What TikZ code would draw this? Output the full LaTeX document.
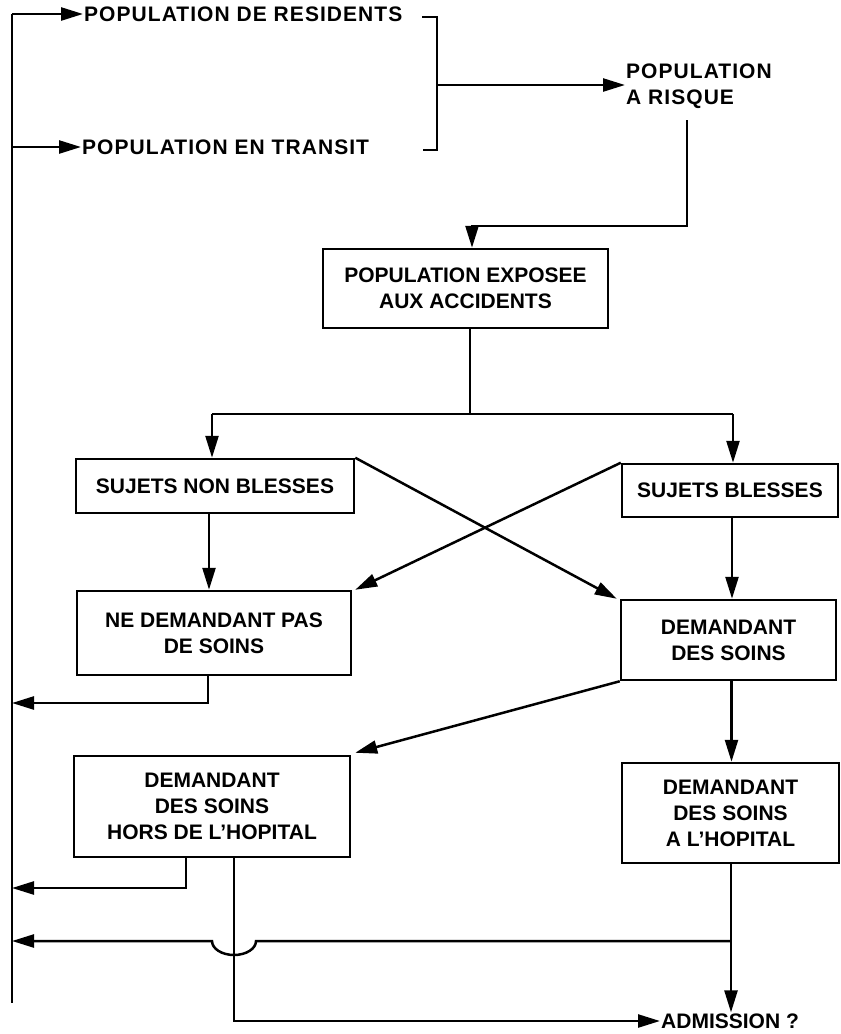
\documentclass[tikz,border=0pt]{standalone}
\usepackage{fontspec}
\setmainfont{Liberation Sans}
\usetikzlibrary{arrows.meta}
\tikzset{
  ln/.style={line width=2.5pt},
  arr/.style={ln,-{Triangle[length=22pt,width=13pt]}},
  txt/.style={font=\fontsize{21}{26}\selectfont\bfseries, align=center, inner sep=1pt},
  toptxt/.style={font=\fontsize{21}{26}\selectfont\bfseries\addfontfeatures{LetterSpace=5}, align=left, inner sep=1pt},
  boxnode/.style={draw, line width=2.5pt, txt, inner sep=0pt},
}
\begin{document}
\begin{tikzpicture}[x=1pt,y=-1pt]
\useasboundingbox (0,0) rectangle (841,1034);
% text nodes
\node[toptxt,anchor=west] (res) at (83,14) {POPULATION DE RESIDENTS};
\node[toptxt,anchor=west] (tra) at (81,147) {POPULATION EN TRANSIT};
\node[toptxt,anchor=west] (risk) at (625,86) {POPULATION\\A RISQUE};
\node[txt,anchor=west] (adm) at (660,1021) {ADMISSION ?};
% boxes
\node[boxnode,minimum width=285pt,minimum height=79pt] (expo) at (465.5,288.5) {POPULATION EXPOSEE\\AUX ACCIDENTS};
\node[boxnode,minimum width=278pt,minimum height=54pt] (snb) at (215,486) {SUJETS NON BLESSES};
\node[boxnode,minimum width=216pt,minimum height=53pt] (sb) at (730,490.5) {SUJETS BLESSES};
\node[boxnode,minimum width=274pt,minimum height=84pt] (ndp) at (214,633) {NE DEMANDANT PAS\\DE SOINS};
\node[boxnode,minimum width=215pt,minimum height=80pt] (dds) at (728.5,640) {DEMANDANT\\DES SOINS};
\node[boxnode,minimum width=276pt,minimum height=101pt] (hdh) at (212,806.5) {DEMANDANT\\DES SOINS\\HORS DE L'HOPITAL};
\node[boxnode,minimum width=217pt,minimum height=100pt] (dsh) at (730.5,813) {DEMANDANT\\DES SOINS\\A L'HOPITAL};
% helper coordinates
\coordinate (Ltop) at (12,14);
\coordinate (Lbot) at (12,1003);
\coordinate (Lx) at (12,0);
\coordinate (b1) at (422,17);
\coordinate (b2) at (437,17);
\coordinate (b3) at (437,150);
\coordinate (b4) at (423,150);
\coordinate (bm) at (437,85);
\coordinate (r1) at (687,120);
\coordinate (r2) at (687,226);
\coordinate (sp) at (470,414);
\coordinate (spl) at (212,414);
\coordinate (spr) at (733,414);
\coordinate (n1) at (208,703);
\coordinate (h1) at (186,888);
\coordinate (h2) at (234,1021);
\coordinate (ret) at (731,941);
% left trunk
\draw[ln] (Ltop) -- (Lbot);
\draw[arr] (Ltop) -- (res.west);
\draw[arr] (tra.west -| Lx) -- (tra.west);
% bracket
\draw[ln] (b1) -- (b2) -- (b3) -- (b4);
\draw[arr] (bm) -- (bm -| risk.west);
% risk to exposee
\draw[arr] (r1) -- (r2) -| ([xshift=6.5pt]expo.north);
% split
\draw[ln] (expo.south -| sp) -- (sp);
\draw[ln] (spl) -- (spr);
\draw[arr] (spl) -- (spl |- snb.north);
\draw[arr] (spr) -- (spr |- sb.north);
% verticals
\draw[arr] ([xshift=-6pt]snb.south) -- ([xshift=-6pt]snb.south |- ndp.north);
\draw[arr] ([xshift=2pt]sb.south) -- ([xshift=2pt]sb.south |- dds.north);
\draw[arr] ([xshift=3pt]dds.south) -- ([xshift=3pt]dds.south |- dsh.north);
% cross
\draw[arr] (snb.north east) -- ([xshift=-3pt]dds.north west);
\draw[arr] (sb.north west) -- ([xshift=3pt]ndp.north east);
\draw[arr] (dds.south west) -- ([xshift=4pt,yshift=2pt]hdh.north east);
% returns
\draw[arr] (ndp.south -| n1) -- (n1) -- (n1 -| Lx);
\draw[arr] (hdh.south -| h1) -- (h1) -- (h1 -| Lx);
\draw[arr] (hdh.south -| h2) -- (h2) -- (adm.west);
\draw[arr] (dsh.south -| ret) -- (ret |- adm.north);
\draw[arr] (ret) -- (256,941) arc[start angle=0,end angle=-180,x radius=22,y radius=-14] -- (ret -| Lx);
\end{tikzpicture}
\end{document}
